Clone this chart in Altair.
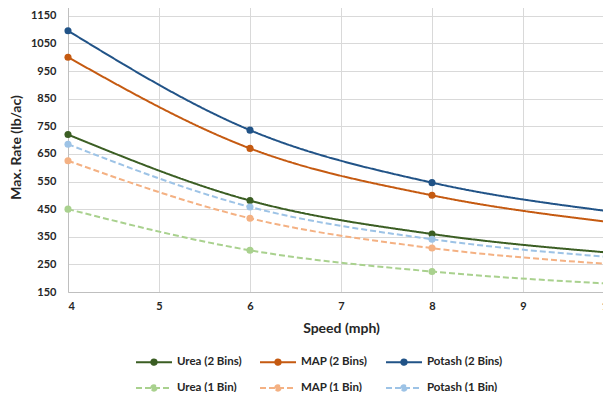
import altair as alt
import pandas as pd

speeds = [4, 6, 8, 10]
series_names = ["Urea (2 Bins)", "MAP (2 Bins)", "Potash (2 Bins)",
                "Urea (1 Bin)", "MAP (1 Bin)", "Potash (1 Bin)"]
urea_2 = [720, 481, 360, 291]
map_2 = [1000, 670, 500, 401]
potash_2 = [1096, 736, 546, 440]
urea_1 = [450, 301, 224, 179]
map_1 = [625, 417, 309, 250]
potash_1 = [685, 458, 341, 275]
series_values = [urea_2, map_2, potash_2, urea_1, map_1, potash_1]

series_colors = ["#3b5e23", "#c55a11", "#215387", "#a9d18e", "#f4b183", "#9dc3e6"]
series_dashes = [[1, 0], [1, 0], [1, 0], [6, 3], [6, 3], [6, 3]]

x_ticks = [4, 5, 6, 7, 8, 9, 10]
y_ticks = [150, 250, 350, 450, 550, 650, 750, 850, 950, 1050, 1150]

rows = []
for name, vals in zip(series_names, series_values):
    for s, v in zip(speeds, vals):
        rows.append({"Series": name, "Speed": s, "Rate": v})
df = pd.DataFrame(rows)

FONT = "Lato"
symbol_path = ("M-1,0L1,0M-0.15,0A0.15,0.15,0,1,1,0.15,0"
               "A0.15,0.15,0,1,1,-0.15,0Z")

legend = alt.Legend(
    title=None, orient="none", legendX=67, legendY=341, columns=3,
    direction="horizontal",
    symbolType=symbol_path, symbolSize=1296, symbolStrokeWidth=2,
    labelFont=FONT, labelFontSize=11.5, labelFontWeight="bold",
    labelColor="#262626", labelOffset=4, columnPadding=14, rowPadding=-1,
)

x_enc = alt.X("Speed:Q", scale=alt.Scale(domain=[4, 10], nice=False, zero=False),
              axis=alt.Axis(values=x_ticks, title="Speed (mph)", grid=True,
                            ticks=False, labelPadding=8, titlePadding=10,
                            format="d"))
y_enc = alt.Y("Rate:Q", scale=alt.Scale(domain=[150, 1200], nice=False, zero=False),
              axis=alt.Axis(values=y_ticks, title="Max. Rate (lb/ac)", grid=True,
                            ticks=False, labelPadding=12, titlePadding=7,
                            format="d"))
color_enc = alt.Color("Series:N", sort=series_names,
                      scale=alt.Scale(domain=series_names, range=series_colors),
                      legend=legend)

lines = alt.Chart(df).mark_line(interpolate="monotone", strokeWidth=2).encode(
    x=x_enc, y=y_enc, color=color_enc,
    strokeDash=alt.StrokeDash("Series:N", sort=series_names,
                              scale=alt.Scale(domain=series_names, range=series_dashes),
                              legend=legend),
    detail="Series:N",
)
points = alt.Chart(df).mark_point(filled=True, size=50, opacity=1).encode(
    x=x_enc, y=y_enc, color=color_enc,
)

chart = alt.layer(lines, points).properties(
    width=546, height=290,
    padding={"left": 60, "top": -6, "right": -11, "bottom": 100},
    autosize="none",
).configure_view(strokeWidth=0).configure_axis(
    labelFont=FONT, labelFontSize=11, labelFontWeight="bold", labelColor="#262626",
    titleFont=FONT, titleFontSize=14, titleFontWeight="bold", titleColor="#262626",
    gridColor="#d9d9d9", domainColor="#bfbfbf", domainWidth=1,
).configure_legend(labelFont=FONT)

chart.save("out.html", embed_options={"renderer": "svg", "actions": False})
